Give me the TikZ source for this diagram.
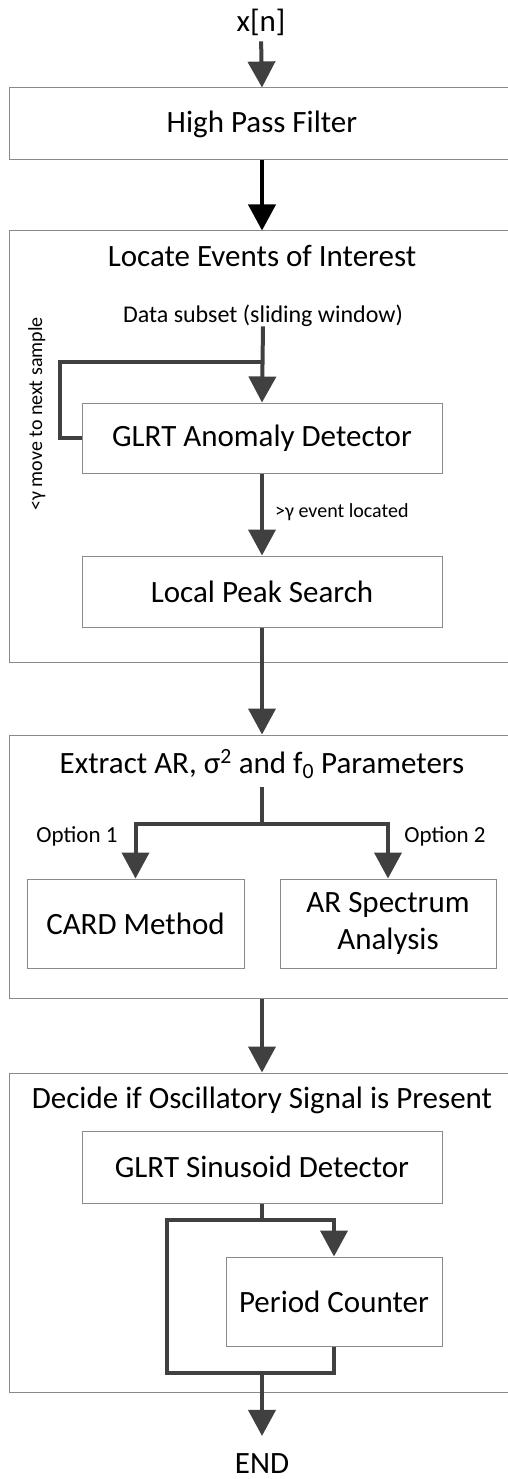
\documentclass[tikz,border=0pt]{standalone}
\usepackage{fontspec}
\setmainfont{Carlito}
\usetikzlibrary{arrows.meta,calc}
\definecolor{arrc}{HTML}{404040}
\definecolor{boxc}{HTML}{8A8A8A}
\begin{document}
\begin{tikzpicture}[x=1pt,y=-1pt,
  box/.style={draw=boxc,line width=1pt,inner sep=0pt,align=center},
  bigtxt/.style={font=\fontsize{31}{37}\selectfont,inner sep=0pt},
  midtxt/.style={font=\fontsize{24}{29}\selectfont,inner sep=0pt},
  opttxt/.style={font=\fontsize{23}{28}\selectfont,inner sep=0pt},
  smalltxt/.style={font=\fontsize{20}{24}\selectfont,inner sep=0pt},
  conn/.style={draw=arrc,line width=4pt},
  arr/.style={conn,-{Triangle[width=27pt,length=26pt]}},
]
\useasboundingbox (0,0) rectangle (508,1479);
\clip (0,0) rectangle (508,1479);
\fill[white] (0,0) rectangle (508,1479);

% containers
\node[box,bigtxt,minimum width=506pt,minimum height=72pt] (hpf) at (262,124) {High Pass Filter};
\node[box,minimum width=506pt,minimum height=431pt] (loc) at (262,446.5) {};
\node[box,minimum width=506pt,minimum height=263pt] (ext) at (262,866.5) {};
\node[box,minimum width=506pt,minimum height=319pt] (dec) at (262,1232.5) {};

% texts
\node[bigtxt,anchor=base] (xn) at (261,32) {x[n]};
\node[bigtxt,anchor=base] (loct) at (262,266) {Locate Events of Interest};
\node[midtxt,anchor=base] (dsub) at (263,322) {Data subset (sliding window)};
\node[smalltxt,rotate=90,anchor=base] (mv) at (42,414) {<γ move to next sample};
\node[smalltxt,anchor=base west] (evl) at (275,517) {>γ event located};
\node[bigtxt,anchor=base] (extt) at (262,773) {Extract AR, σ\textsuperscript{2} and f\textsubscript{0} Parameters};
\node[opttxt,anchor=base] (o1) at (77,842) {Option 1};
\node[opttxt,anchor=base] (o2) at (445,842) {Option 2};
\node[bigtxt,anchor=base] (dect) at (262,1108) {Decide if Oscillatory Signal is Present};
\node[bigtxt,anchor=base] (endn) at (262,1473) {END};

% inner boxes
\node[box,bigtxt,minimum width=360pt,minimum height=70pt] (gad) at (262,438) {GLRT Anomaly Detector};
\node[box,bigtxt,minimum width=360pt,minimum height=71pt] (lps) at (262,591.5) {Local Peak Search};
\node[box,bigtxt,minimum width=217pt,minimum height=89pt] (card) at (135.5,923.5) {CARD Method};
\node[box,bigtxt,minimum width=216pt,minimum height=89pt] (ars) at (388,923.5) {AR Spectrum\\Analysis};
\node[box,bigtxt,minimum width=360pt,minimum height=72pt] (gsd) at (262,1167) {GLRT Sinusoid Detector};
\node[box,bigtxt,minimum width=216pt,minimum height=89pt] (per) at (334,1301.5) {Period Counter};

% connectors
\draw[arr,shorten <=5pt] (xn.south) -- (hpf.north);
\draw[arr,draw=black] (hpf.south) -- (loc.north);
\draw[arr] (dsub.south) -- (gad.north);
\coordinate (fb) at (262,362);
\draw[conn] (fb) -| ($(gad.west)+(-22,0)$) -- (gad.west);
\draw[arr] (gad.south) -- (lps.north);
\draw[arr] (lps.south) -- (ext.north);
\coordinate (j1) at (262,824);
\draw[conn,shorten <=8pt] (extt.south) -- (j1);
\draw[arr] (j1) -| (card.north);
\draw[arr] (j1) -| (ars.north);
\draw[arr] (ext.south) -- (dec.north);
\coordinate (j2) at (262,1220);
\coordinate (j3) at (262,1373);
\draw[conn] (gsd.south) -- (j2);
\draw[arr] (j2) -| (per.north);
\draw[conn] (j2) -| ($(j3)+(-95,0)$) -- (j3);
\draw[conn] (per.south) |- (j3);
\draw[arr,shorten >=17pt] (j3) -- (endn.north);
\end{tikzpicture}
\end{document}
